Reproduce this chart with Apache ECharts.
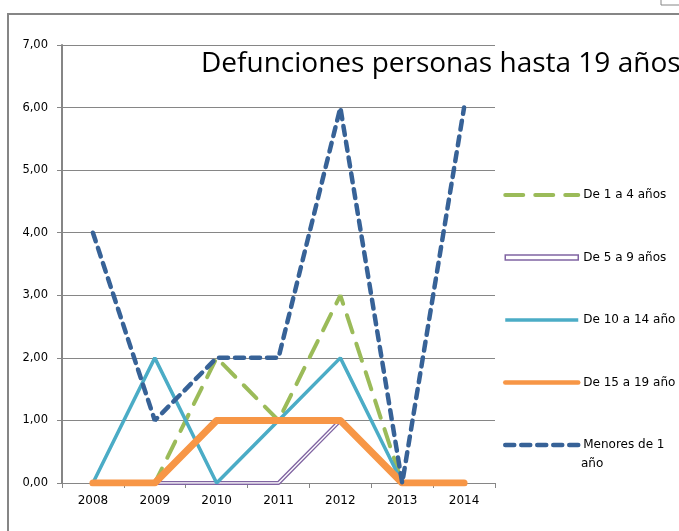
<!DOCTYPE html>
<html><head><meta charset="utf-8">
<script src="https://cdn.jsdelivr.net/npm/echarts@6/dist/echarts.min.js"></script>
<style>html,body{margin:0;padding:0;background:#fff}#c{width:679px;height:531px}</style>
</head><body><div id="c"></div>
<script>
var years = ['2008','2009','2010','2011','2012','2013','2014'];
var de1a4 = [0,0,2,1,3,0,0];
var de5a9 = [0,0,0,0,1,0,0];
var de10a14 = [0,2,0,1,2,0,0];
var de15a19 = [0,0,1,1,1,0,0];
var menores1 = [4,1,2,2,6,0,6];
var yTicks = [0,1,2,3,4,5,6,7];
var titleText = 'Defunciones personas hasta 19 años';

var chart = echarts.init(document.getElementById('c'));
var grey = '#868686';
var legendText = {fontFamily: 'DejaVu Sans', fontSize: 12, color: '#000'};
var hiddenSym = {color: 'rgba(0,0,0,0)', borderColor: 'rgba(0,0,0,0)', borderWidth: 0};
chart.setOption({
  animation: false,
  backgroundColor: '#fff',
  title: {text: titleText, left: 196, top: 45,
    textStyle: {fontFamily: 'Open Sans', fontSize: 28, fontWeight: 500, color: '#000'}},
  grid: {left: 62, right: 184, top: 45, bottom: 48},
  legend: [{
    orient: 'vertical', left: 503, top: 189, padding: 0, itemGap: 50.5, itemWidth: 73, itemHeight: 5,
    textStyle: legendText, itemStyle: hiddenSym, lineStyle: {width: 'inherit'},
    data: [
      {name: 'De 1 a 4 años'},
      {name: 'De 5 a 9 años', icon: 'rect', itemStyle: {color: '#fff', borderColor: '#8064A2', borderWidth: 1.5}},
      {name: 'De 10 a 14 años'},
      {name: 'De 15 a 19 años', lineStyle: {width: 4.5}}
    ],
    formatter: function (n) { return n.replace('14 años','14 año').replace('19 años','19 año'); }
  }, {
    orient: 'vertical', left: 503, top: 439, padding: 0, itemWidth: 73, itemHeight: 5,
    textStyle: legendText, itemStyle: hiddenSym, lineStyle: {width: 'inherit'},
    data: [{name: 'Menores de 1 año'}],
    formatter: function () { return 'Menores de 1'; }
  }],
  graphic: [
    {type: 'rect', shape: {x: 8, y: 14, width: 720, height: 600}, style: {fill: 'none', stroke: grey, lineWidth: 2}, silent: true},
    {type: 'rect', shape: {x: 661, y: -4, width: 30, height: 9}, style: {fill: 'none', stroke: grey, lineWidth: 1}, silent: true},
    {type: 'text', left: 581, top: 458, style: {text: 'año', fontFamily: 'DejaVu Sans', fontSize: 12, fill: '#000'}}
  ],
  xAxis: {
    type: 'category', data: years, boundaryGap: true,
    axisLine: {lineStyle: {color: grey, width: 1}},
    axisTick: {show: true, alignWithLabel: false, length: 5, lineStyle: {color: grey}},
    axisLabel: {color: '#000', fontFamily: 'DejaVu Sans', fontSize: 12, margin: 12}
  },
  yAxis: {
    type: 'value', min: 0, max: 7, interval: 1,
    axisLine: {show: true, lineStyle: {color: grey, width: 2}},
    axisTick: {show: true, length: 5, lineStyle: {color: grey}},
    splitLine: {lineStyle: {color: grey, width: 1}},
    axisLabel: {color: '#000', fontFamily: 'DejaVu Sans', fontSize: 11.5, margin: 14,
      formatter: function (v) { return v.toFixed(2).replace('.', ','); }}
  },
  series: [
    {name: 'De 1 a 4 años', type: 'line', data: de1a4, showSymbol: false, symbol: 'none',
      lineStyle: {color: '#9BBB59', width: 4, type: [18, 12], cap: 'round'}, itemStyle: {color: '#9BBB59'}, z: 2},
    {name: 'De 5 a 9 años', type: 'line', data: de5a9, showSymbol: false, symbol: 'none',
      lineStyle: {color: '#8064A2', width: 4}, itemStyle: {color: '#8064A2'}, z: 3},
    {name: 'De 5 a 9 años (interior)', type: 'line', data: de5a9, showSymbol: false, symbol: 'none',
      lineStyle: {color: '#fff', width: 1.3}, itemStyle: {color: '#fff'}, z: 3},
    {name: 'De 10 a 14 años', type: 'line', data: de10a14, showSymbol: false, symbol: 'none',
      lineStyle: {color: '#4BACC6', width: 3.5}, itemStyle: {color: '#4BACC6'}, z: 4},
    {name: 'De 15 a 19 años', type: 'line', data: de15a19, showSymbol: false, symbol: 'none',
      lineStyle: {color: '#F79646', width: 7, cap: 'round', join: 'round'}, itemStyle: {color: '#F79646'}, z: 5},
    {name: 'Menores de 1 año', type: 'line', data: menores1, showSymbol: false, symbol: 'none',
      lineStyle: {color: '#376297', width: 4.5, type: [9, 7], cap: 'round'}, itemStyle: {color: '#376297'}, z: 6}
  ]
});
</script></body></html>
